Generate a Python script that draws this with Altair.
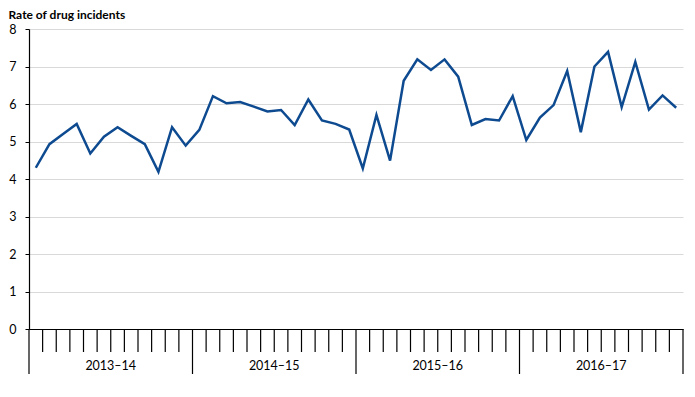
import altair as alt
import pandas as pd

years = ["2013–14", "2014–15", "2015–16", "2016–17"]
months_per_year = 12
rates = [
    4.30, 4.93, 5.20, 5.47, 4.68, 5.13, 5.38, 5.15, 4.93, 4.19, 5.38, 4.89,
    5.31, 6.21, 6.02, 6.05, 5.93, 5.80, 5.84, 5.44, 6.12, 5.56, 5.47, 5.32,
    4.28, 5.71, 4.49, 6.62, 7.19, 6.91, 7.19, 6.73, 5.44, 5.60, 5.56, 6.21,
    5.04, 5.64, 5.97, 6.88, 5.25, 7.00, 7.39, 5.92, 7.12, 5.85, 6.23, 5.90,
]
y_ticks = [0, 1, 2, 3, 4, 5, 6, 7, 8]

n = len(rates)
W, H = 654, 300
FONT = "Lato"

line_df = pd.DataFrame({"pos": [i + 0.5 for i in range(n)], "rate": rates})
year_bounds = pd.DataFrame({"pos": [i * months_per_year for i in range(len(years) + 1)]})
month_bounds = pd.DataFrame({"pos": [i for i in range(1, n) if i % months_per_year != 0]})
year_labels = pd.DataFrame({
    "pos": [i * months_per_year + months_per_year / 2 for i in range(len(years))],
    "label": years,
})

xscale = alt.Scale(domain=[0, n], nice=False, zero=False)
yscale = alt.Scale(domain=[0, 8], nice=False)

line = alt.Chart(line_df).mark_line(color="#0d4a90", strokeWidth=2.5).encode(
    x=alt.X("pos:Q", scale=xscale,
            axis=alt.Axis(labels=False, ticks=False, title=None, grid=False,
                          domainColor="black", domainWidth=1.2)),
    y=alt.Y("rate:Q", scale=yscale,
            axis=alt.Axis(values=y_ticks, title="Rate of drug incidents",
                          titleAngle=0, titleAlign="left", titleBaseline="alphabetic",
                          titleX=-21, titleY=-11, titleFont=FONT, titleFontSize=12,
                          titleFontWeight="bold", titleColor="black",
                          labelFont=FONT, labelFontSize=12.5, labelColor="black",
                          labelPadding=9, tickSize=4, tickColor="black",
                          domainColor="black", domainWidth=1.2,
                          gridColor="#d9d9d9", gridWidth=1)),
)

month_ticks = alt.Chart(month_bounds).mark_rule(color="black", strokeWidth=1.2).encode(
    x=alt.X("pos:Q", scale=xscale),
    y=alt.value(H),
    y2=alt.value(H + 23),
)

bounds = alt.Chart(year_bounds).mark_rule(color="black", strokeWidth=1.2).encode(
    x=alt.X("pos:Q", scale=xscale),
    y=alt.value(H),
    y2=alt.value(H + 45),
)

labels = alt.Chart(year_labels).mark_text(
    font=FONT, fontSize=12.5, color="black", baseline="middle", align="center"
).encode(
    x=alt.X("pos:Q", scale=xscale),
    y=alt.value(H + 37),
    text="label:N",
)

chart = alt.layer(line, month_ticks, bounds, labels).properties(
    width=W, height=H,
    autosize=alt.AutoSizeParams(type="none"),
    padding={"left": 21, "top": 21, "right": 4, "bottom": 56},
).configure_view(stroke=None)

chart.save("out.html", embed_options={"renderer": "svg", "actions": False})
